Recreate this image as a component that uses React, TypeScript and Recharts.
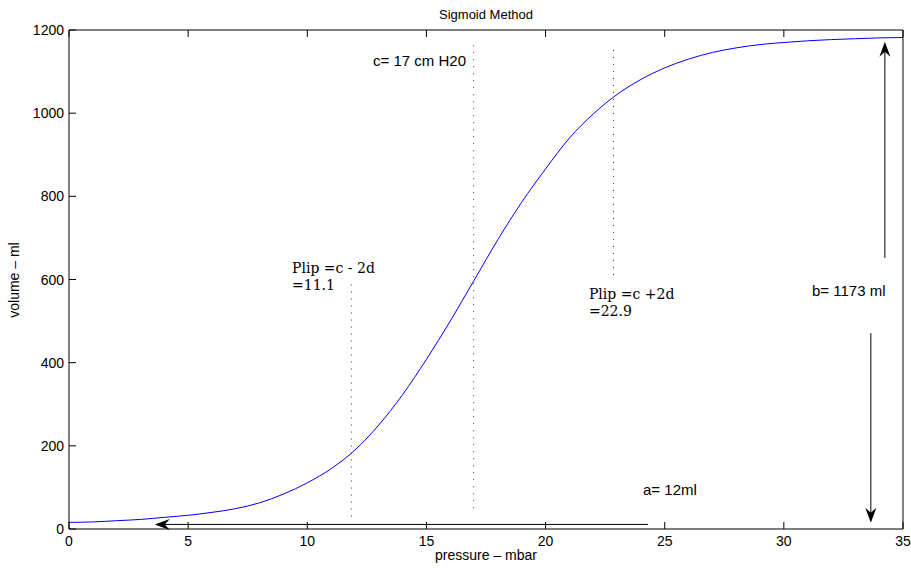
import React from 'react';
import { LineChart, Line, XAxis, YAxis, ReferenceLine, ReferenceDot } from 'recharts';

// pressure (mbar) and volume (ml)
const pressure = [0, 1, 2, 3, 4, 5, 6, 7, 8, 9, 10, 11, 12, 13, 14, 15, 16, 17, 18, 19, 20, 21, 22, 23, 24, 25, 26, 27, 28, 29, 30, 31, 32, 33, 34, 35];
const volume = [16, 17, 20, 23, 28, 33, 40, 49, 63, 84, 111, 145, 190, 250, 323, 408, 500, 598, 696, 786, 866, 940, 998, 1045, 1081, 1109, 1130, 1146, 1157, 1165, 1170, 1174, 1177, 1179, 1181, 1182];

const xTicks = [0, 5, 10, 15, 20, 25, 30, 35];
const yTicks = [0, 200, 400, 600, 800, 1000, 1200];

// dotted markers: x position, bottom, top
const markX = [11.85, 16.98, 22.85];
const markFrom = [30, 50, 611];
const markTo = [594, 1164, 1164];

// arrows: start -> head
const arrowFrom = [{ x: 24.3, y: 11 }, { x: 34.24, y: 652 }, { x: 33.65, y: 471 }];
const arrowTo = [{ x: 3.6, y: 11 }, { x: 34.24, y: 1172 }, { x: 33.65, y: 15 }];

// annotations
const noteText = ['c= 17 cm H20', 'Plip =c - 2d', '=11.1', 'Plip =c +2d', '=22.9', 'b= 1173 ml', 'a= 12ml'];
const noteX = [12.76, 9.36, 9.36, 21.82, 21.82, 31.18, 24.09];
const noteY = [1113, 615, 575, 553, 512, 560, 82];
const noteSerif = [false, true, true, true, true, false, false];

const data = pressure.map((p, i) => ({ p, v: volume[i] }));

const sans = 'Liberation Sans, Arial, Helvetica, sans-serif';

const BottomTick = (p: any) => (
  <g>
    <line x1={p.x} y1={p.y} x2={p.x} y2={p.y - 7} stroke="#000" />
    <text x={p.x} y={p.y + 17} textAnchor="middle" fontSize={14} fontFamily={sans} fill="#000">
      {p.payload.value}
    </text>
  </g>
);
const TopTick = (p: any) => <line x1={p.x} y1={p.y} x2={p.x} y2={p.y + 7} stroke="#000" />;
const LeftTick = (p: any) => (
  <g>
    <line x1={p.x} y1={p.y} x2={p.x + 7} y2={p.y} stroke="#000" />
    <text x={p.x - 5} y={p.y + 5} textAnchor="end" fontSize={14} fontFamily={sans} fill="#000">
      {p.payload.value}
    </text>
  </g>
);
const RightTick = (p: any) => <line x1={p.x} y1={p.y} x2={p.x - 7} y2={p.y} stroke="#000" />;

const Arrow = (p: any) => {
  const { x1, y1, x2, y2 } = p;
  const a = Math.atan2(y2 - y1, x2 - x1);
  const c = Math.cos(a);
  const s = Math.sin(a);
  const pt = (back: number, side: number) => `${x2 - back * c - side * s},${y2 - back * s + side * c}`;
  return (
    <g>
      <line x1={x1} y1={y1} x2={x2 - 8 * c} y2={y2 - 8 * s} stroke="#000" strokeWidth={1} />
      <polygon points={`${pt(0, 0)} ${pt(15, 5.5)} ${pt(10, 0)} ${pt(15, -5.5)}`} fill="#000" />
    </g>
  );
};

export default function App() {
  return (
    <div style={{ position: 'absolute', left: 0, top: 0, width: 911, height: 568, background: '#fff' }}>
      <LineChart width={911} height={568} data={data} margin={{ top: 0, right: 0, bottom: 0, left: 0 }}>
        <XAxis xAxisId="b" dataKey="p" type="number" domain={[0, 35]} ticks={xTicks} height={39}
          axisLine={{ stroke: '#000' }} tickLine={false} tickSize={0} tickMargin={0} tick={BottomTick} interval={0} />
        <XAxis xAxisId="t" orientation="top" type="number" domain={[0, 35]} ticks={xTicks} height={30}
          axisLine={{ stroke: '#000' }} tickLine={false} tickSize={0} tickMargin={0} tick={TopTick} interval={0} />
        <YAxis yAxisId="l" type="number" domain={[0, 1200]} ticks={yTicks} width={69}
          axisLine={{ stroke: '#000' }} tickLine={false} tickSize={0} tickMargin={0} tick={LeftTick} interval={0} />
        <YAxis yAxisId="r" orientation="right" type="number" domain={[0, 1200]} ticks={yTicks} width={8}
          axisLine={{ stroke: '#000' }} tickLine={false} tickSize={0} tickMargin={0} tick={RightTick} interval={0} />
        {markX.map((x, i) => (
          <ReferenceLine key={'m' + i} xAxisId="b" yAxisId="l"
            segment={[{ x, y: markFrom[i] }, { x, y: markTo[i] }]}
            stroke="#333" strokeDasharray="1 6" />
        ))}
        <Line xAxisId="b" yAxisId="l" dataKey="v" type="monotone" stroke="#0000ff" strokeWidth={1}
          dot={false} isAnimationActive={false} />
        {arrowFrom.map((f, i) => (
          <ReferenceLine key={'a' + i} xAxisId="b" yAxisId="l"
            segment={[f, arrowTo[i]]} shape={Arrow} />
        ))}
        {noteText.map((t, i) => (
          <ReferenceDot key={'n' + i} xAxisId="b" yAxisId="l" x={noteX[i]} y={noteY[i]} r={0}
            shape={(p: any) => (
              <text x={p.cx} y={p.cy} fontSize={noteSerif[i] ? 14 : 15}
                fontFamily={noteSerif[i] ? 'DejaVu Serif, serif' : sans} fill="#000">
                {t}
              </text>
            )} />
        ))}
      </LineChart>
      <div style={{ position: 'absolute', left: 386, top: 7, width: 200, textAlign: 'center', fontFamily: sans, fontSize: 13, lineHeight: '16px' }}>
        Sigmoid Method
      </div>
      <div style={{ position: 'absolute', left: 336, top: 546, width: 300, textAlign: 'center', fontFamily: sans, fontSize: 14, lineHeight: '18px' }}>
        pressure – mbar
      </div>
      <div style={{ position: 'absolute', left: 14, top: 280, width: 0, height: 0 }}>
        <div style={{ position: 'absolute', left: -100, top: -9, width: 200, textAlign: 'center', fontFamily: sans, fontSize: 14, lineHeight: '18px', transform: 'rotate(-90deg)' }}>
          volume – ml
        </div>
      </div>
    </div>
  );
}
